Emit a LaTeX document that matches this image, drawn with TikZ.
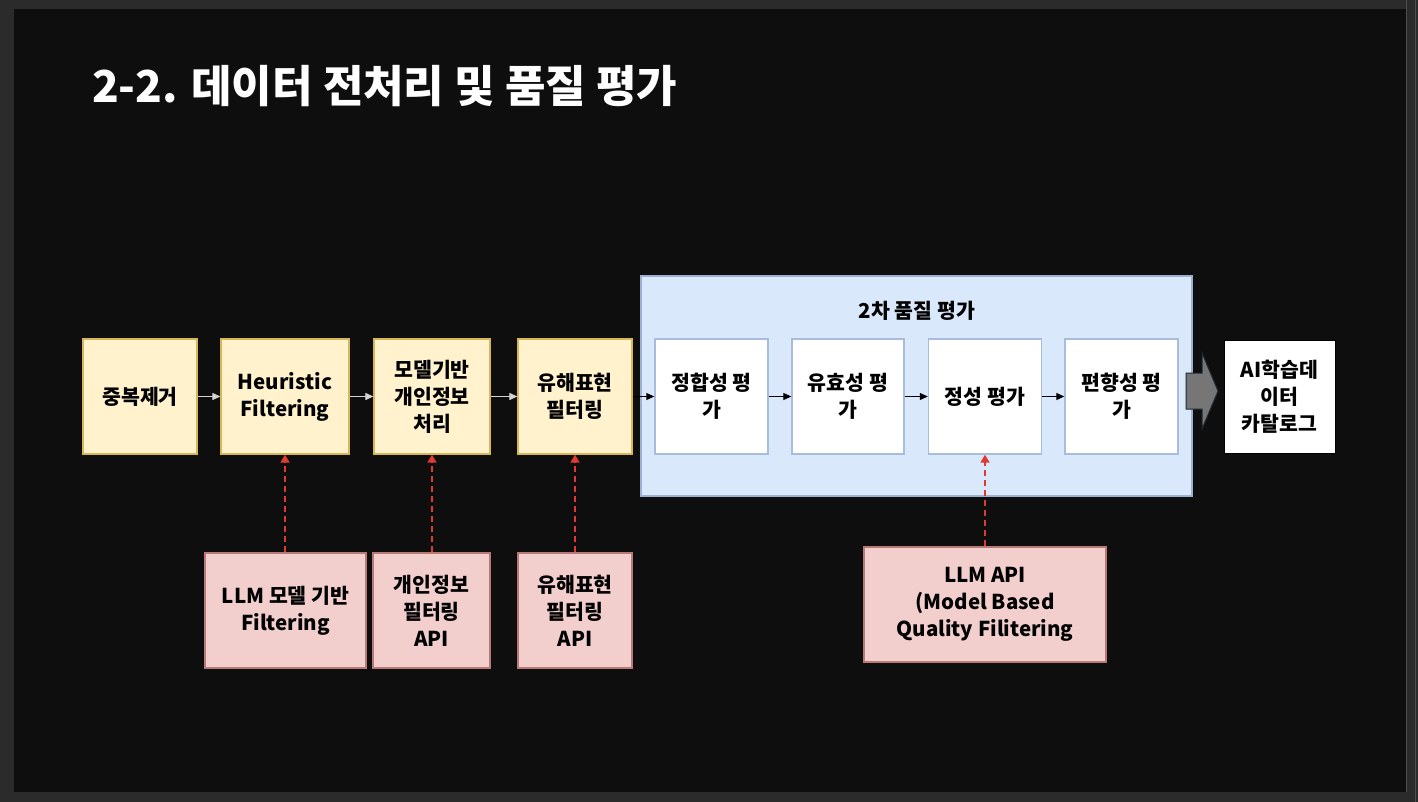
\documentclass[tikz,border=0pt]{standalone}
\usepackage{fontspec}
\setmainfont{Noto Sans CJK KR}
\usetikzlibrary{arrows.meta,calc}
\definecolor{outerbg}{HTML}{2B2B2B}
\definecolor{innerbg}{HTML}{0E0E0E}
\definecolor{edgeline}{HTML}{4D4D4D}
\definecolor{yfill}{HTML}{FFF2CC}
\definecolor{ystroke}{HTML}{D6B656}
\definecolor{pfill}{HTML}{F2CFCD}
\definecolor{pstroke}{HTML}{B87A77}
\definecolor{bfill}{HTML}{DAE8FC}
\definecolor{bstroke}{HTML}{9DB0D2}
\definecolor{wstroke}{HTML}{A9BCDC}
\definecolor{garrowc}{HTML}{D4D4D4}
\definecolor{rarrowc}{HTML}{DE3A2F}
\definecolor{blockfill}{HTML}{767676}
\definecolor{blockstroke}{HTML}{1E2A33}
\begin{document}
\begin{tikzpicture}[x=1pt,y=-1pt,
  txt/.style={font=\bfseries\fontsize{20.5}{27}\selectfont, align=center, inner sep=0pt, text=black},
  ybox/.style={txt, draw=ystroke, fill=yfill, line width=1.2pt, minimum height=115pt},
  pbox/.style={txt, draw=pstroke, fill=pfill, line width=1.4pt, minimum height=115pt},
  wbox/.style={txt, draw=wstroke, fill=white, line width=1.4pt, minimum height=115pt},
  gline/.style={draw=garrowc, line width=1pt, -{Triangle[length=8pt,width=7pt]}},
  kline/.style={draw=black, line width=1pt, -{Triangle[length=8pt,width=7pt]}},
  rline/.style={draw=rarrowc, line width=1.6pt, dash pattern=on 6pt off 4pt, -{Triangle[length=8pt,width=9pt]}},
]
\useasboundingbox (0,0) rectangle (1418,802);
% frame
\fill[outerbg] (0,0) rectangle (1418,802);
\fill[innerbg] (14,9) rectangle (1406,792);
\draw[edgeline, line width=1pt] (1406.5,0) -- (1406.5,792);
\draw[edgeline, line width=1pt] (1415.5,0) -- (1415.5,802);
% title
\node[anchor=base west, inner sep=0pt, text=white, font=\bfseries\fontsize{44}{50}\selectfont] (title) at (92,103) {2-2. 데이터 전처리 및 품질 평가};
% container
\node[draw=bstroke, fill=bfill, line width=1.6pt, minimum width=551pt, minimum height=220pt, inner sep=0pt] (cont) at (916.5,386) {};
\node[txt] (ctitle) at (917,311) {2차 품질 평가};
% yellow boxes
\node[ybox, minimum width=114pt] (dedup) at (140,396.5) {중복제거};
\node[ybox, minimum width=128pt] (heur) at (285,396.5) {Heuristic\\Filtering};
\node[ybox, minimum width=116pt] (pii) at (432,396.5) {모델기반\\개인정보\\처리};
\node[ybox, minimum width=114pt] (harm) at (575,396.5) {유해표현\\필터링};
% white boxes
\node[wbox, minimum width=113pt] (cons) at (711.5,396.5) {정합성 평\\가};
\node[wbox, minimum width=112pt] (valid) at (848,396.5) {유효성 평\\가};
\node[wbox, minimum width=113pt] (qual) at (985,396.5) {정성 평가};
\node[wbox, minimum width=113pt] (bias) at (1121.5,396.5) {편향성 평\\가};
% catalog
\node[txt, draw=black, fill=white, line width=1pt, minimum width=111pt, minimum height=113pt] (cat) at (1279.5,396.5) {AI학습데\\이터\\카탈로그};
% pink boxes
\node[pbox, minimum width=161pt] (llmf) at (285.5,610.5) {LLM 모델 기반\\Filtering};
\node[pbox, minimum width=117pt] (piiapi) at (431.5,610.5) {개인정보\\필터링\\API};
\node[pbox, minimum width=114pt] (harmapi) at (575,610.5) {유해표현\\필터링\\API};
\node[pbox, minimum width=242pt] (llmapi) at (985,604.5) {LLM API\\(Model Based\\Quality Filitering};
% flow arrows
\draw[gline] (dedup) -- (heur);
\draw[gline] (heur) -- (pii);
\draw[gline] (pii) -- (harm);
\draw[kline] (harm) -- (cons);
\draw[kline] (cons) -- (valid);
\draw[kline] (valid) -- (qual);
\draw[kline] (qual) -- (bias);
% dashed supports
\draw[rline] (heur.south |- llmf.north) -- (heur.south);
\draw[rline] (pii.south |- piiapi.north) -- (pii.south);
\draw[rline] (harm.south |- harmapi.north) -- (harm.south);
\draw[rline] (qual.south |- llmapi.north) -- (qual.south);
% block arrow
\coordinate (ba) at (1186,391);
\draw[fill=blockfill, draw=blockstroke, line width=1pt, line join=miter]
  ($(ba)+(0,-18)$) -- ++(16,0) -- ++(0,-20) -- ($(ba)+(32,0)$) -- ($(ba)+(16,38)$) -- ++(0,-20) -- ($(ba)+(0,18)$) -- cycle;
\end{tikzpicture}
\end{document}
